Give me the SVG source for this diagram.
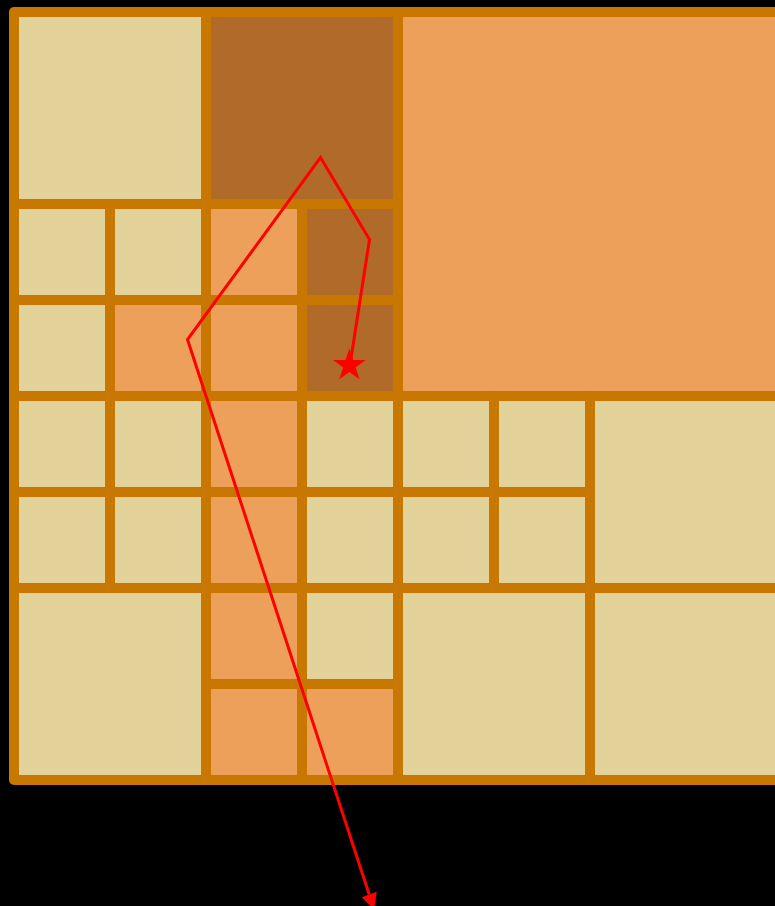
<svg xmlns="http://www.w3.org/2000/svg" width="775" height="906" viewBox="0 0 775 906">
<style>
.c{stroke:#c87800;stroke-width:10;stroke-linejoin:round}
.b{fill:#e3d19a}
.o{fill:#eda05a}
.d{fill:#b06b2a}
.path{fill:none;stroke:#ff0000;stroke-width:3;stroke-linejoin:miter}
</style>
<rect x="0" y="0" width="775" height="906" fill="#000"/>
<g id="cells">
<g id="cell-a"><rect class="c b" x="14" y="12" width="192" height="192"/></g>
<g id="cell-b"><rect class="c d" x="206" y="12" width="192" height="192"/></g>
<g id="cell-c"><rect class="c o" x="398" y="12" width="384" height="384"/></g>
<g id="cell-r2-0"><rect class="c b" x="14" y="204" width="96" height="96"/></g>
<g id="cell-r2-1"><rect class="c b" x="110" y="204" width="96" height="96"/></g>
<g id="cell-r2-2"><rect class="c o" x="206" y="204" width="96" height="96"/></g>
<g id="cell-r2-3"><rect class="c d" x="302" y="204" width="96" height="96"/></g>
<g id="cell-r3-0"><rect class="c b" x="14" y="300" width="96" height="96"/></g>
<g id="cell-r3-1"><rect class="c o" x="110" y="300" width="96" height="96"/></g>
<g id="cell-r3-2"><rect class="c o" x="206" y="300" width="96" height="96"/></g>
<g id="cell-r3-3"><rect class="c d" x="302" y="300" width="96" height="96"/></g>
<g id="cell-r4-0"><rect class="c b" x="14" y="396" width="96" height="96"/></g>
<g id="cell-r4-1"><rect class="c b" x="110" y="396" width="96" height="96"/></g>
<g id="cell-r4-2"><rect class="c o" x="206" y="396" width="96" height="96"/></g>
<g id="cell-r4-3"><rect class="c b" x="302" y="396" width="96" height="96"/></g>
<g id="cell-r4-4"><rect class="c b" x="398" y="396" width="96" height="96"/></g>
<g id="cell-r4-5"><rect class="c b" x="494" y="396" width="96" height="96"/></g>
<g id="cell-r4-6"><rect class="c b" x="590" y="396" width="192" height="192"/></g>
<g id="cell-r5-0"><rect class="c b" x="14" y="492" width="96" height="96"/></g>
<g id="cell-r5-1"><rect class="c b" x="110" y="492" width="96" height="96"/></g>
<g id="cell-r5-2"><rect class="c o" x="206" y="492" width="96" height="96"/></g>
<g id="cell-r5-3"><rect class="c b" x="302" y="492" width="96" height="96"/></g>
<g id="cell-r5-4"><rect class="c b" x="398" y="492" width="96" height="96"/></g>
<g id="cell-r5-5"><rect class="c b" x="494" y="492" width="96" height="96"/></g>
<g id="cell-r6-0"><rect class="c b" x="14" y="588" width="192" height="192"/></g>
<g id="cell-r6-2"><rect class="c o" x="206" y="588" width="96" height="96"/></g>
<g id="cell-r6-3"><rect class="c b" x="302" y="588" width="96" height="96"/></g>
<g id="cell-r7-2"><rect class="c o" x="206" y="684" width="96" height="96"/></g>
<g id="cell-r7-3"><rect class="c o" x="302" y="684" width="96" height="96"/></g>
<g id="cell-r6-4"><rect class="c b" x="398" y="588" width="192" height="192"/></g>
<g id="cell-r6-6"><rect class="c b" x="590" y="588" width="192" height="192"/></g>
</g>
<g id="connectors">
<polyline class="path" points="350,365 369.5,239.5 320.5,157.5 187.5,339.5 369.2,894.5"/>
<polygon id="arrowhead" points="374.1,909.7 361.7,897.3 376.7,891.7" fill="#ff0000"/>
<polygon id="star" fill="#ff0000" points="349.4,348.3 353.3,360.1 365.7,360.1 355.7,367.4 359.5,379.3 349.4,372 339.3,379.3 343.1,367.4 333.1,360.1 345.5,360.1"/>
</g>
</svg>
